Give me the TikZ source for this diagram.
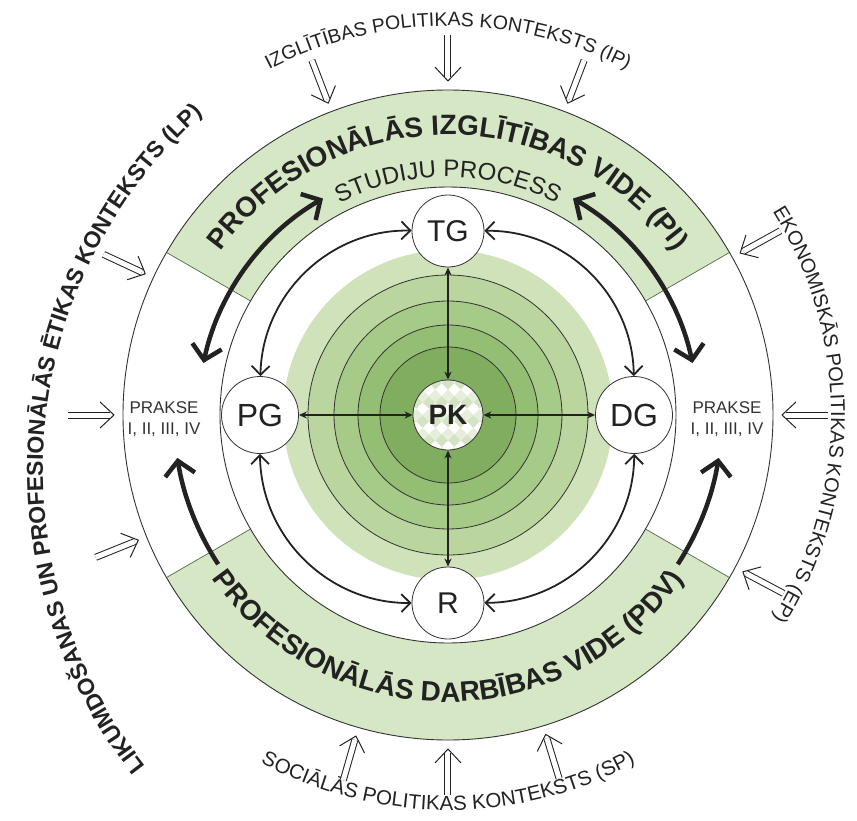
\documentclass[tikz,border=0pt]{standalone}
\usepackage{fontspec}
\setmainfont{Liberation Sans}
\usetikzlibrary{arrows.meta,decorations.text,calc}
\definecolor{band}{HTML}{D6E7C5}
\definecolor{ringA}{HTML}{CFE2BA}
\definecolor{ringB}{HTML}{BAD69E}
\definecolor{ringC}{HTML}{A6CA87}
\definecolor{ringD}{HTML}{94BE73}
\definecolor{ringE}{HTML}{80AE5E}
\definecolor{ink}{HTML}{222222}
\definecolor{rule}{HTML}{333333}
\definecolor{seam}{HTML}{55664A}
\definecolor{chkA}{HTML}{D3E3C3}
\definecolor{chkB}{HTML}{E6EFDC}
\begin{document}
\begin{tikzpicture}[x=1pt,y=1pt,line join=round,
  place/.style={circle,draw=rule,line width=0.8pt,fill=white,minimum size=72pt,
    inner sep=0pt,font=\fontsize{30}{30}\selectfont,text=ink},
  wide/.style={minimum size=77pt,font=\fontsize{32}{32}\selectfont},
  link/.style={draw=ink,line width=1.8pt,
    {Straight Barb[length=9pt,width=18pt]}-{Straight Barb[length=9pt,width=18pt]}},
  spoke/.style={draw=ink,line width=1.5pt,
    {Stealth[length=8pt,width=7pt]}-{Stealth[length=8pt,width=7pt]}},
  flow/.style={draw=ink,line width=4.5pt},
  shaft/.style={draw=ink,line width=1pt,double=white,double distance=5pt},
  barb/.style={draw=ink,line width=1pt},
  arctext/.style={decorate,decoration={text along path,text align=center,text color=ink,text={#1}}},
]
\useasboundingbox (-448,-405) rectangle (409,415);

% green sectors of the outer ring
\fill[band] (30:228pt) arc[start angle=30,end angle=150,radius=228pt]
  -- (150:325pt) arc[start angle=150,end angle=30,radius=325pt] -- cycle;
\fill[band] (210:228pt) arc[start angle=210,end angle=330,radius=228pt]
  -- (330:325pt) arc[start angle=330,end angle=210,radius=325pt] -- cycle;
\foreach \a in {30,150,210,330} \draw[seam,line width=0.7pt] (\a:228pt) -- (\a:325pt);
\draw[rule,line width=0.9pt] (0,0) circle[radius=325pt];
\draw[rule,line width=0.9pt] (0,0) circle[radius=228pt];

% concentric green disk
\fill[ringA] (0,0) circle[radius=165pt];
\filldraw[fill=ringB,draw=rule,line width=0.8pt] (0,0) circle[radius=140pt];
\filldraw[fill=ringC,draw=rule,line width=0.8pt] (0,0) circle[radius=114pt];
\filldraw[fill=ringD,draw=rule,line width=0.8pt] (0,0) circle[radius=90pt];
\filldraw[fill=ringE,draw=rule,line width=0.8pt] (0,0) circle[radius=68pt];

% checkered core
\begin{scope}
  \clip (0,0) circle[radius=35pt];
  \fill[white] (0,0) circle[radius=35pt];
  \begin{scope}[rotate=45]
    \foreach \i in {-5,...,4} \foreach \j in {-5,...,4} {
      \pgfmathtruncatemacro\k{mod(\i+\j+20,3)}
      \ifnum\k=0 \fill[chkA] (\i*9,\j*9) rectangle ++(9,9); \fi
      \ifnum\k=1 \fill[chkB] (\i*9,\j*9) rectangle ++(9,9); \fi
    }
  \end{scope}
\end{scope}
\node[circle,draw=rule,line width=0.8pt,minimum size=70pt,inner sep=0pt,
  font=\bfseries\fontsize{28}{28}\selectfont,text=ink] (PK) at (0,0) {PK};

% outer nodes
\node[place] (TG) at (90:184pt) {TG};
\node[place,wide] (PG) at (180:188pt) {PG};
\node[place,wide] (DG) at (0:186pt) {DG};
\node[place] (R)  at (270:188pt) {R};

\draw[spoke] (TG) -- (PK);
\draw[spoke] (PG) -- (PK);
\draw[spoke] (DG) -- (PK);
\draw[spoke] (R) -- (PK);

\draw[link] (TG) to[bend right=45] (PG);
\draw[link] (TG) to[bend left=45] (DG);
\draw[link] (PG) to[bend right=45] (R);
\draw[link] (DG) to[bend left=45] (R);

% heavy circulation arrows
\draw[flow,{Straight Barb[length=14pt,width=30pt]}-{Straight Barb[length=14pt,width=30pt]}]
  (120:250pt) arc[start angle=120,end angle=168,radius=250pt];
\draw[flow,{Straight Barb[length=14pt,width=30pt]}-{Straight Barb[length=14pt,width=30pt]}]
  (60:250pt) arc[start angle=60,end angle=12,radius=250pt];
\draw[flow,-{Straight Barb[length=14pt,width=30pt]}]
  (213:274pt) arc[start angle=213,end angle=189,radius=274pt];
\draw[flow,-{Straight Barb[length=14pt,width=30pt]}]
  (327:274pt) arc[start angle=327,end angle=351,radius=274pt];

% practice labels
\node[align=center,font=\fontsize{17}{21}\selectfont,text=rule] (PL) at (-284,-4) {PRAKSE\\I, II, III, IV};
\node[align=center,font=\fontsize{17}{21}\selectfont,text=rule] (PR) at (279,-4) {PRAKSE\\I, II, III, IV};

% ring titles
\path[arctext={|\bfseries\fontsize{28}{28}\selectfont|PROFESIONĀLĀS IZGLĪTĪBAS VIDE (PI)}]
  (165:280pt) arc[start angle=165,end angle=15,radius=280pt];
\path[arctext={|\fontsize{24}{24}\selectfont|STUDIJU PROCESS}]
  (150:238pt) arc[start angle=150,end angle=30,radius=238pt];
\path[arctext={|\bfseries\fontsize{28}{28}\selectfont|PROFESIONĀLĀS DARBĪBAS VIDE (PDV)}]
  (195:287pt) arc[start angle=195,end angle=345,radius=287pt];

% context labels
\path[arctext={|\fontsize{19.5}{20}\selectfont|IZGLĪTĪBAS POLITIKAS KONTEKSTS (IP)}]
  (150:389pt) arc[start angle=150,end angle=30,radius=389pt];
\path[arctext={|\fontsize{20.5}{21}\selectfont|SOCIĀLĀS POLITIKAS KONTEKSTS (SP)}]
  (210:395pt) arc[start angle=210,end angle=330,radius=395pt];
\path[arctext={|\fontsize{20}{21}\selectfont|EKONOMISKĀS POLITIKAS KONTEKSTS (EP)}]
  (60:383pt) arc[start angle=60,end angle=-60,radius=383pt];
\path[arctext={|\bfseries\fontsize{23}{24}\selectfont|LIKUMDOŠANAS UN PROFESIONĀLĀS ĒTIKAS KONTEKSTS (LP)}]
  ($(72,-55)+(240:477pt)$) arc[start angle=240,end angle=110,radius=477pt];

% incoming influence arrows
\foreach \a in {111,90,69,155,180,202,29,0,332,254,270,287} {
  \coordinate (out\a) at (\a:380pt);
  \coordinate (in\a) at (\a:334pt);
  \draw[shaft] (out\a) -- ($(in\a)!4pt!(out\a)$);
  \draw[barb] ($(in\a)!19pt!43:(out\a)$) -- (in\a) -- ($(in\a)!19pt!-43:(out\a)$);
}
\end{tikzpicture}
\end{document}
